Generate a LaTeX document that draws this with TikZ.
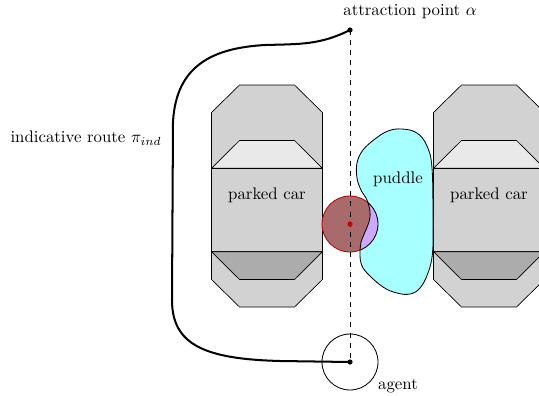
\documentclass[tikz,border=0pt]{standalone}
\begin{document}
\definecolor{puddlecyan}{RGB}{168,255,255}
\definecolor{obstred}{RGB}{168,106,106}
\definecolor{overlapviolet}{RGB}{204,168,255}
\tikzset{
  carbody/.style={draw=black, fill=gray!35, line width=0.4pt},
  frontglass/.style={draw=black, fill=gray!17, line width=0.4pt},
  rearglass/.style={draw=black, fill=gray!65, line width=0.4pt},
  lbl/.style={inner sep=0pt, font=\normalsize},
  route/.style={line width=1.2pt, line cap=round},
  dot/.style={fill=black},
  car/.pic={
    \path[carbody] (-27.5,-111) -- (27.5,-111) -- (55.5,-83.5) -- (55.5,83.5)
      -- (27.5,111) -- (-27.5,111) -- (-55.5,83.5) -- (-55.5,-83.5) -- cycle;
    \path[frontglass] (-27.5,-55.5) -- (27.5,-55.5) -- (55.5,-27.7) -- (-55.5,-27.7) -- cycle;
    \path[carbody] (-55.5,-27.7) rectangle (55.5,55.7);
    \path[rearglass] (-55.5,55.7) -- (55.5,55.7) -- (27.5,83.5) -- (-27.5,83.5) -- cycle;
    \node[lbl] (-label) at (0,-1) {parked car};
  }
}
\def\puddleshape{plot[smooth cycle, tension=0.65] coordinates {
  (402,129) (417,133) (427,146) (432,168) (433,220) (432.5,253) (428,273)
  (420,288) (410,294) (397,293) (383,287) (367,273) (361,263) (360,250)
  (361,242) (365,232) (369,222) (370,212) (367,200) (361,190) (357,178)
  (357,163) (363,150) (375,139) (388,131)}}
\begin{tikzpicture}[x=0.595pt, y=-0.595pt]
\useasboundingbox (0,0) rectangle (539,395);

% the two parked cars
\pic (lcar) at (267,196) {car};
\pic (rcar) at (489,196) {car};

% key points
\coordinate (attr) at (350,30);
\coordinate (agentc) at (350,362);
\coordinate (obst) at (350,224);

% obstacle disc and the puddle
\fill[obstred] (obst) circle[radius=28];
\draw[red!75!black, line width=0.5pt] (obst) circle[radius=28];
\fill[puddlecyan] \puddleshape;
\begin{scope}
  \clip \puddleshape;
  \fill[overlapviolet] (obst) circle[radius=28];
  \draw[black, line width=0.5pt] (obst) circle[radius=28];
\end{scope}
\draw[black, line width=0.5pt] \puddleshape;
\node[lbl] (puddlelabel) at (398,179) {puddle};

% straight line of sight
\draw[dashed, line width=0.5pt] (attr) -- (agentc);
\fill[red!80!black] (obst) circle[radius=2.6];

% agent
\draw[line width=0.5pt] (agentc) circle[radius=28];

% indicative route
\draw[route] (attr) .. controls (320,45) and (300,44) .. (265,45)
  .. controls (212,48) and (176,66) .. (173,122) -- (172,300)
  .. controls (172,345) and (205,359) .. (280,361) -- (agentc);

\fill[dot] (attr) circle[radius=2.6];
\fill[dot] (agentc) circle[radius=2.6];

% labels
\node[lbl] (attrlabel) at (410,12) {attraction point $\alpha$};
\node[lbl] (agentlabel) at (398,386) {agent};
\node[lbl] (routelabel) at (86,138) {indicative route $\pi_{ind}$};
\end{tikzpicture}
\end{document}
